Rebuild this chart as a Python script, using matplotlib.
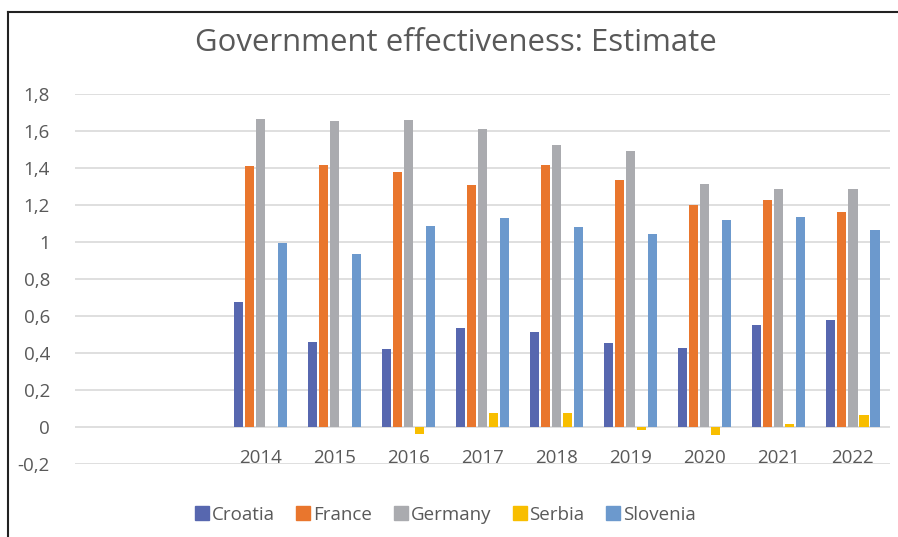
import matplotlib
matplotlib.use("Agg")
import numpy as np
from matplotlib import pyplot as plt
from matplotlib.lines import Line2D

# two blank categories come before 2014 in the source sheet
categories = ["", "", "2014", "2015", "2016", "2017", "2018", "2019", "2020", "2021", "2022"]
countries = ["Croatia", "France", "Germany", "Serbia", "Slovenia"]

croatia = [np.nan, np.nan, 0.676, 0.458, 0.420, 0.534, 0.514, 0.456, 0.425, 0.551, 0.580]
france = [np.nan, np.nan, 1.410, 1.416, 1.380, 1.306, 1.416, 1.335, 1.202, 1.229, 1.162]
germany = [np.nan, np.nan, 1.663, 1.654, 1.660, 1.609, 1.523, 1.494, 1.312, 1.288, 1.286]
serbia = [np.nan, np.nan, 0.0, 0.0, -0.038, 0.074, 0.074, -0.016, -0.042, 0.014, 0.065]
slovenia = [np.nan, np.nan, 0.995, 0.935, 1.086, 1.128, 1.081, 1.041, 1.119, 1.135, 1.066]

series = [croatia, france, germany, serbia, slovenia]
colors = ["#5767AF", "#E9762D", "#AAABAF", "#F8BE00", "#6C99CD"]

plt.rcParams["font.family"] = ["Open Sans", "DejaVu Sans"]
text_color = "#595959"
fs = 13.5

fig = plt.figure(figsize=(8.98, 5.37), dpi=100)
ax = fig.add_axes([0.0835, 0.136, 0.9075, 0.689])

x = np.arange(len(categories))
slot = 0.1486
bar_w = 0.125
for i, (vals, col) in enumerate(zip(series, colors)):
    ax.bar(x + (i - 2) * slot, vals, width=bar_w, color=col, zorder=3)

ax.set_xlim(-0.5, len(categories) - 0.5)
ax.set_ylim(-0.2, 1.8)
yt = np.arange(-0.2, 1.81, 0.2)
ax.set_yticks(yt)
ax.set_yticklabels([("%.1f" % v).replace(".", ",").replace(",0", "") if abs(v) > 1e-9 else "0" for v in yt])
ax.tick_params(axis="y", length=0, pad=18, labelsize=fs, labelcolor=text_color)
ax.set_xticks([])
ax.grid(axis="y", color="#D9D9D9", linewidth=1.2, zorder=0)
for s in ax.spines.values():
    s.set_visible(False)

for xi, lab in zip(x, categories):
    ax.text(xi, -0.168, lab, ha="center", va="center", fontsize=fs, color=text_color)

fig.text(0.508, 0.919, "Government effectiveness: Estimate", ha="center", va="center",
         fontsize=22.4, color=text_color)

handles = [Line2D([], [], marker="s", linestyle="", markersize=10, color=c) for c in colors]
fig.legend(handles, countries, loc="center", bbox_to_anchor=(0.496, 0.041), ncol=5,
           frameon=False, fontsize=fs, labelcolor=text_color, handlelength=0.75,
           handletextpad=0.15, columnspacing=1.15)

# chart border (left and top edges only visible)
fig.add_artist(Line2D([8 / 898, 8 / 898], [0, 1 - 11.5 / 537], color="#222222", linewidth=1.5))
fig.add_artist(Line2D([8 / 898, 1], [1 - 11.5 / 537, 1 - 11.5 / 537], color="#222222", linewidth=1.5))

fig.savefig("out.png", dpi=100)
